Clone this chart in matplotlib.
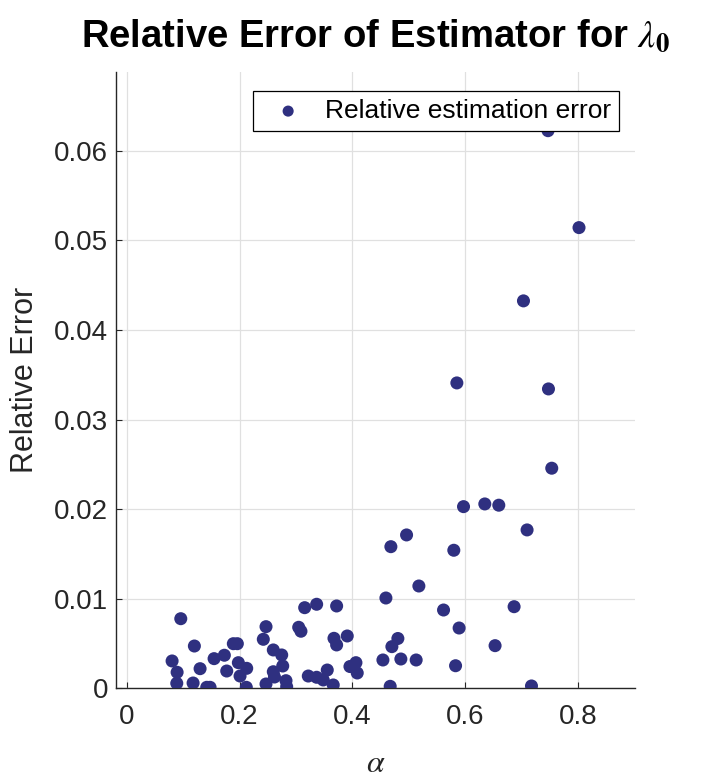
import matplotlib
matplotlib.use("Agg")
import matplotlib.pyplot as plt

plt.rcParams['font.family'] = ['Liberation Sans', 'DejaVu Sans']
plt.rcParams['mathtext.fontset'] = 'stix'

# alpha values and relative errors
alpha = [0.0959, 0.120, 0.0805, 0.0894, 0.0888, 0.1177, 0.1301, 0.1419, 0.1478, 0.1549,
         0.1731, 0.1773, 0.1890, 0.1961, 0.1979, 0.2127, 0.2009, 0.2120, 0.2469, 0.2421,
         0.2469, 0.2598, 0.2747, 0.2765, 0.2598, 0.2619, 0.2823, 0.2835, 0.3154, 0.3366,
         0.3720, 0.3048, 0.3088, 0.3673, 0.3908, 0.3720, 0.3218, 0.3366, 0.3554, 0.3483,
         0.3660, 0.3956, 0.4062, 0.4085, 0.4669, 0.4593, 0.4805, 0.4699, 0.4540, 0.4858,
         0.5129, 0.5827, 0.7172, 0.5890, 0.6527, 0.5614, 0.6864, 0.5177, 0.4681, 0.4959,
         0.5796, 0.5968, 0.6345, 0.6593, 0.7094, 0.7465, 0.8014, 0.7030, 0.5850, 0.7473,
         0.7531]
rel_err = [0.00777, 0.00472, 0.00305, 0.00179, 0.00056, 0.00059, 0.00219, 0.00011, 0.00011, 0.00331,
           0.00369, 0.00193, 0.00498, 0.00498, 0.00286, 0.00223, 0.00137, 0.00011, 0.00688, 0.00547,
           0.00048, 0.00428, 0.00372, 0.00249, 0.00185, 0.00126, 0.00085, 0.00018, 0.00900, 0.00938,
           0.00919, 0.00681, 0.00637, 0.00558, 0.00584, 0.00484, 0.00137, 0.00123, 0.00204, 0.00093,
           0.00037, 0.00243, 0.00286, 0.00171, 0.00022, 0.01008, 0.00556, 0.00465, 0.00316, 0.00327,
           0.00316, 0.00252, 0.00026, 0.00673, 0.00476, 0.00874, 0.00911, 0.01142, 0.01581, 0.01712,
           0.01541, 0.02028, 0.02058, 0.02044, 0.01768, 0.06225, 0.05143, 0.04325, 0.03409, 0.03342,
           0.02457]

xticks = [0, 0.2, 0.4, 0.6, 0.8]
xtick_labels = ['0', '0.2', '0.4', '0.6', '0.8']
yticks = [0, 0.01, 0.02, 0.03, 0.04, 0.05, 0.06]
ytick_labels = ['0', '0.01', '0.02', '0.03', '0.04', '0.05', '0.06']

dot_color = '#2f3080'
ink = '#262626'

fig = plt.figure(figsize=(7.03, 7.81), dpi=100)
ax = fig.add_axes([0.1657, 0.1187, 0.7371, 0.7891])

ax.scatter(alpha, rel_err, s=88, color=dot_color, edgecolors='none', zorder=3,
           label='Relative estimation error')

ax.set_xlim(-0.018, 0.9)
ax.set_ylim(0, 0.0688)
ax.set_xticks(xticks)
ax.set_xticklabels(xtick_labels)
ax.set_yticks(yticks)
ax.set_yticklabels(ytick_labels)

ax.grid(True, color='#e0e0e0', linewidth=0.9, zorder=0)
ax.set_axisbelow(True)
for side in ('top', 'right'):
    ax.spines[side].set_visible(False)
for side in ('left', 'bottom'):
    ax.spines[side].set_color(ink)
    ax.spines[side].set_linewidth(1.0)

ax.tick_params(axis='both', direction='in', length=4.5, width=0.8, color=ink,
               labelcolor=ink, labelsize=20)
ax.tick_params(axis='x', pad=11)
ax.tick_params(axis='y', pad=6)

ax.set_title(r'Relative Error of Estimator for $\lambda_{\mathbf{0}}$',
             fontsize=27.5, fontweight='bold', pad=18)
ax.set_xlabel(r'$\alpha$', fontsize=23, color=ink, labelpad=14)
ax.set_ylabel('Relative Error', fontsize=22, color=ink, labelpad=10)

leg = ax.legend(loc='upper right', bbox_to_anchor=(0.970, 0.969), borderaxespad=0,
                fontsize=19, frameon=True, fancybox=False, edgecolor='black',
                framealpha=1.0, borderpad=0.3, handlelength=2.1, handletextpad=0.35,
                markerscale=0.85)
leg.get_frame().set_linewidth(0.9)
leg.set_zorder(5)

fig.savefig('out.png', dpi=100)
